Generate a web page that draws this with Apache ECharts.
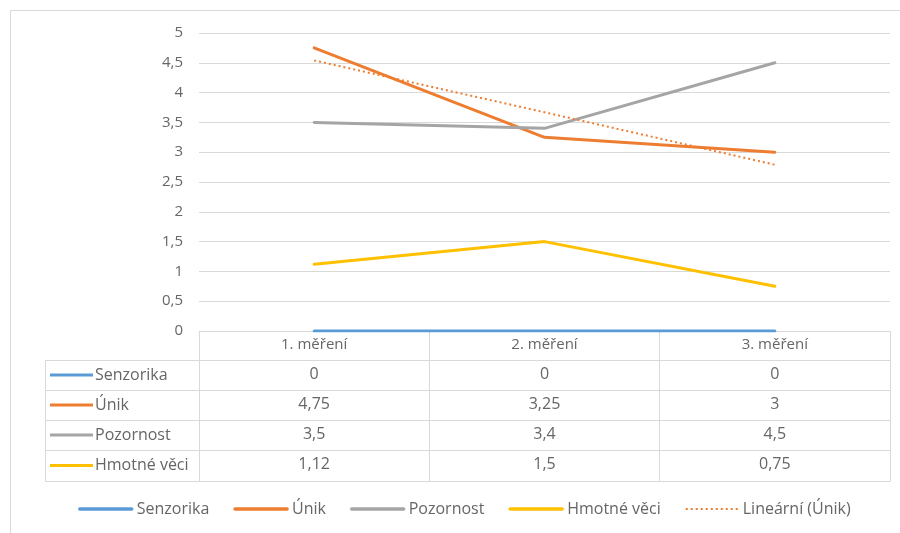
<!DOCTYPE html>
<html>
<head>
<meta charset="utf-8">
<script src="https://cdn.jsdelivr.net/npm/echarts@6/dist/echarts.min.js"></script>
<style>
  html, body { margin: 0; padding: 0; background: #fff; }
  #chart { width: 900px; height: 533px; }
</style>
</head>
<body>
<div id="chart"></div>
<script>
// Measurements and their series
const categories = ['1. měření', '2. měření', '3. měření'];
const seriesNames = ['Senzorika', 'Únik', 'Pozornost', 'Hmotné věci'];
const senzorika = [0, 0, 0];
const unik = [4.75, 3.25, 3];
const pozornost = [3.5, 3.4, 4.5];
const hmotneVeci = [1.12, 1.5, 0.75];
const trendUnik = [4.54, 3.67, 2.79];
const trendName = 'Lineární (Únik)';
const yTicks = [0, 0.5, 1, 1.5, 2, 2.5, 3, 3.5, 4, 4.5, 5];

const seriesValues = [senzorika, unik, pozornost, hmotneVeci];
const colors = ['#5B9BD5', '#ED7D31', '#A5A5A5', '#FFC000'];
const textColor = '#666666';
const lineColor = '#D9D9D9';
const font = '"Open Sans", "Noto Sans", sans-serif';

// Czech decimal comma
const fmt = v => String(v).replace('.', ',');

// Layout of the plot and of the data table below it
const G = { left: 199, right: 10, top: 33, bottom: 202 };
const rowH = [29, 30, 30, 30, 31];         // header row + one row per series
const keyLeft = 45;

const chart = echarts.init(document.getElementById('chart'), null, { renderer: 'canvas' });

// Row offsets below the category axis
const offsets = [];
let acc = 0;
rowH.forEach(h => { acc += h; offsets.push(acc); });
const tableH = acc;

const xAxes = [{
  type: 'category',
  data: categories,
  boundaryGap: true,
  axisLine: { show: true, lineStyle: { color: lineColor, width: 1 } },
  axisTick: { show: true, interval: 0, length: tableH, lineStyle: { color: lineColor } },
  axisLabel: { color: textColor, fontSize: 15, fontFamily: font, margin: 6, interval: 0 },
  splitLine: { show: false }
}];
// One axis per table row: its line separates rows, its labels hold the values
offsets.forEach((off, r) => {
  const vals = seriesValues[r];
  xAxes.push({
    type: 'category',
    data: categories,
    position: 'bottom',
    offset: off,
    boundaryGap: true,
    axisLine: { show: true, lineStyle: { color: lineColor, width: 1 } },
    axisTick: { show: false },
    axisLabel: {
      show: !!vals,
      interval: 0,
      color: textColor, fontSize: 16, fontFamily: font, margin: 6,
      formatter: (v, i) => vals ? fmt(vals[i]) : ''
    },
    splitLine: { show: false }
  });
});

const series = seriesNames.map((name, i) => ({
  name,
  type: 'line',
  data: seriesValues[i],
  symbol: 'none',
  lineStyle: { color: colors[i], width: 3, cap: 'round', join: 'round' },
  itemStyle: { color: colors[i] },
  z: 3 + i
}));
series.push({
  name: trendName,
  type: 'line',
  data: trendUnik,
  symbol: 'none',
  lineStyle: { color: '#ED7D31', width: 2, type: [2, 3] },
  itemStyle: { color: '#ED7D31' },
  z: 8
});

// Chart frame and the left column of the data table: row borders and series keys
const graphics = [{
  type: 'rect',
  shape: { x: 10.5, y: 10.5, width: 940, height: 560 },
  style: { fill: 'none', stroke: lineColor, lineWidth: 1 },
  silent: true
}];
const tableTop = 533 - G.bottom;
graphics.push({
  type: 'line',
  shape: { x1: keyLeft + 0.5, y1: tableTop + offsets[0], x2: keyLeft + 0.5, y2: tableTop + tableH },
  style: { stroke: lineColor, lineWidth: 1 }
});
offsets.forEach(off => {
  graphics.push({
    type: 'line',
    shape: { x1: keyLeft, y1: tableTop + off + 0.5, x2: G.left, y2: tableTop + off + 0.5 },
    style: { stroke: lineColor, lineWidth: 1 }
  });
});
seriesNames.forEach((name, i) => {
  const cy = tableTop + offsets[i] + rowH[i + 1] / 2;
  graphics.push({
    type: 'line',
    shape: { x1: keyLeft + 5, y1: cy, x2: keyLeft + 48, y2: cy },
    style: { stroke: colors[i], lineWidth: 3 }
  });
  graphics.push({
    type: 'text',
    x: keyLeft + 50, y: cy,
    style: { text: name, fill: textColor, fontSize: 16, fontFamily: font, verticalAlign: 'middle', align: 'left' }
  });
});

// Legend entries: solid keys a bit heavier, the trend key stays dotted
const legendData = seriesNames.map(name => ({ name, lineStyle: { width: 3.5 } }))
  .concat([{ name: trendName, lineStyle: { width: 2 } }]);

chart.setOption({
  backgroundColor: '#fff',
  animation: false,
  grid: { left: G.left, right: G.right, top: G.top, bottom: G.bottom, containLabel: false },
  xAxis: xAxes,
  yAxis: {
    type: 'value',
    min: yTicks[0],
    max: yTicks[yTicks.length - 1],
    interval: yTicks[1] - yTicks[0],
    axisLine: { show: false },
    axisTick: { show: false },
    axisLabel: { color: textColor, fontSize: 15, fontFamily: font, margin: 16, formatter: v => fmt(v) },
    splitLine: { show: true, lineStyle: { color: lineColor, width: 1 } }
  },
  legend: {
    data: legendData,
    left: 73,
    top: 496,
    itemWidth: 52,
    itemHeight: 14,
    itemGap: 24,
    itemStyle: { opacity: 0 },
    textStyle: { color: textColor, fontSize: 16, fontFamily: font }
  },
  graphic: graphics,
  series
});
</script>
</body>
</html>
